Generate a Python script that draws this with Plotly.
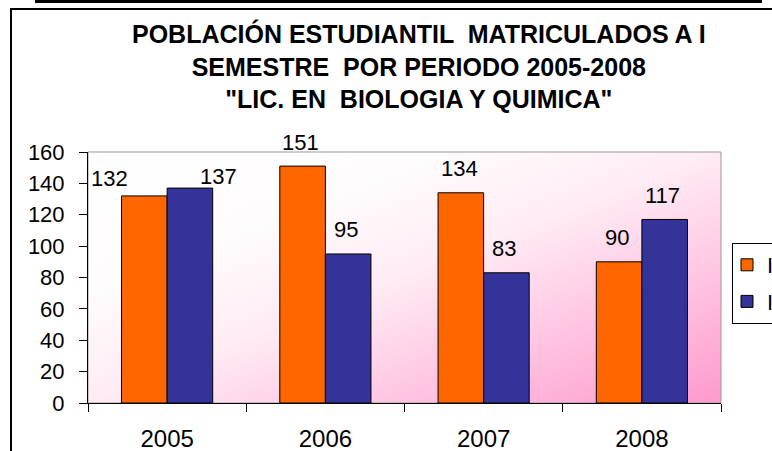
import base64
import plotly.graph_objects as go

# ---------------- data ----------------
years = ["2005", "2006", "2007", "2008"]
sem_I = [132, 151, 134, 90]
sem_II = [137, 95, 83, 117]
series_names = ["I", "II"]
y_ticks = [0, 20, 40, 60, 80, 100, 120, 140, 160]
title_lines = [
    "POBLACIÓN ESTUDIANTIL \u00a0MATRICULADOS A I",
    "SEMESTRE \u00a0POR PERIODO 2005-2008",
    "\"LIC. EN \u00a0BIOLOGIA Y QUIMICA\"",
]

# ---------------- style ----------------
W, H = 772, 451
L, R, T, B = 88, 721, 152, 403      # plot area in pixels
FONT = "Liberation Sans, Arial, sans-serif"
ORANGE = "#FF6600"
BLUE = "#333399"


def px_x(p):
    return (p - L) / (R - L)


def px_y(p):
    return (B - p) / (B - T)


# per-label pixel offsets (styling only): (xshift, yshift)
label_shift_I = [(-58, 3), (-25, 9.5), (-24, 9.5), (-25, 9.5)]
label_shift_II = [(51, -2.5), (21, 9.5), (20, 9.5), (21, 9.5)]

fig = go.Figure()
fig.add_trace(go.Bar(name=series_names[0], x=years, y=sem_I, legendgroup="a",
                     marker=dict(color=ORANGE, line=dict(color="black", width=1))))
fig.add_trace(go.Bar(name=series_names[1], x=years, y=sem_II, legendgroup="b",
                     marker=dict(color=BLUE, line=dict(color="black", width=1))))

annotations = []
for vals, shifts in ((sem_I, label_shift_I), (sem_II, label_shift_II)):
    for i, (v, (dx, dy)) in enumerate(zip(vals, shifts)):
        annotations.append(dict(x=i, y=v, xref="x", yref="y", text=str(v),
                                showarrow=False, yanchor="bottom", xanchor="center",
                                xshift=dx, yshift=dy,
                                font=dict(family=FONT, size=22, color="black")))

annotations.append(dict(text="<br>".join(title_lines), xref="paper", yref="paper",
                        x=px_x(419), y=px_y(17), xanchor="center", yanchor="top",
                        showarrow=False, align="center",
                        font=dict(family=FONT, size=25, color="black", weight="bold")))

# gradient background for plot area
svg = ('<svg xmlns="http://www.w3.org/2000/svg" width="100" height="100" '
       'viewBox="0 0 100 100" preserveAspectRatio="none">'
       '<defs><linearGradient id="g" x1="0" y1="0" x2="1" y2="1">'
       '<stop offset="0" stop-color="#ffffff"/>'
       '<stop offset="0.28" stop-color="#fffcfd"/>'
       '<stop offset="0.5" stop-color="#ffebf4"/>'
       '<stop offset="1" stop-color="#ff99cc"/>'
       '</linearGradient></defs>'
       '<rect x="0" y="0" width="100" height="100" fill="url(#g)"/></svg>')
src = "data:image/svg+xml;base64," + base64.b64encode(svg.encode()).decode()

shapes = [
    # plot-area border (gray, top/right visible)
    dict(type="rect", xref="paper", yref="paper", x0=0, x1=1, y0=0, y1=1,
         line=dict(color="#999999", width=1), layer="below"),
    # top thick rule
    dict(type="line", xref="paper", yref="paper", x0=px_x(35), x1=px_x(762),
         y0=px_y(1.5), y1=px_y(1.5), line=dict(color="black", width=3)),
    # chart frame top and left
    dict(type="line", xref="paper", yref="paper", x0=px_x(10), x1=px_x(780),
         y0=px_y(9), y1=px_y(9), line=dict(color="black", width=2)),
    dict(type="line", xref="paper", yref="paper", x0=px_x(11), x1=px_x(11),
         y0=px_y(9), y1=px_y(460), line=dict(color="black", width=2)),
]

fig.update_layout(
    width=W, height=H,
    margin=dict(l=L, r=W - R, t=T, b=H - B, autoexpand=False),
    paper_bgcolor="white",
    plot_bgcolor="rgba(0,0,0,0)",
    barmode="group",
    bargap=0.424,
    bargroupgap=0,
    font=dict(family=FONT, color="black"),
    xaxis=dict(type="category", range=[-0.5, len(years) - 0.5],
               tickson="boundaries", ticks="outside", ticklen=8,
               tickcolor="black", showline=True, linecolor="black", linewidth=1,
               showgrid=False, tickfont=dict(size=24), ticklabelstandoff=14),
    yaxis=dict(range=[0, 160], tickvals=y_ticks, ticks="outside", ticklen=8,
               tickcolor="black", showline=True, linecolor="black", linewidth=1,
               showgrid=False, zeroline=False, tickfont=dict(size=22),
               ticklabelstandoff=10),
    legend=dict(x=px_x(732), y=px_y(243), xanchor="left", yanchor="top",
                bordercolor="black", borderwidth=1, bgcolor="white",
                font=dict(size=22), tracegroupgap=5, indentation=-6),
    images=[dict(source=src, xref="paper", yref="paper", x=0, y=1,
                 sizex=1, sizey=1, xanchor="left", yanchor="top",
                 sizing="stretch", layer="below")],
    shapes=shapes,
    annotations=annotations,
)

fig.write_html("out.html", config={"displayModeBar": False},
               post_script="document.body.style.margin='0';")
